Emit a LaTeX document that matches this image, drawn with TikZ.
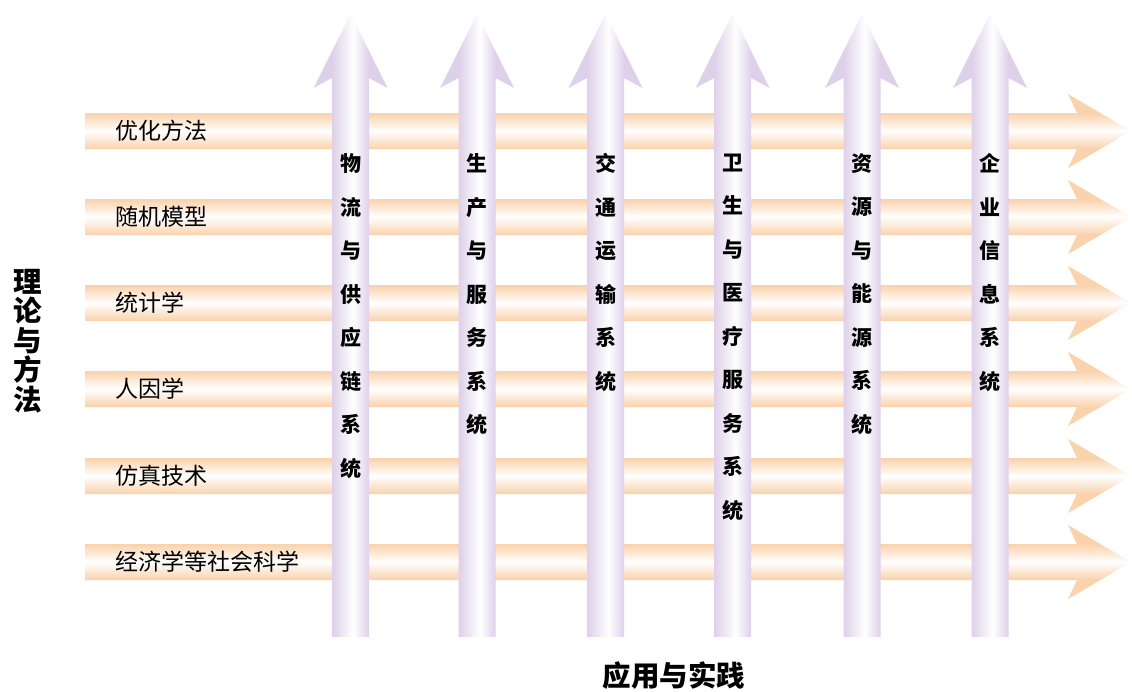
\documentclass[tikz,border=0pt]{standalone}
\usepackage{fontspec}
\newfontfamily\cjk{Noto Sans CJK SC}
\definecolor{peach}{RGB}{250,210,172}
\definecolor{lav}{RGB}{222,208,233}
\pgfdeclareverticalshading{hshade}{100bp}{color(0bp)=(peach); color(38bp)=(peach); color(50bp)=(white); color(62bp)=(peach); color(100bp)=(peach)}
\pgfdeclarehorizontalshading{vshade}{100bp}{color(0bp)=(lav); color(37.6bp)=(lav); color(52bp)=(white); color(62.4bp)=(lav); color(100bp)=(lav)}
\tikzset{
  harrow/.style={shading=hshade},
  varrow/.style={shading=vshade},
  hlabel/.style={anchor=west, inner sep=0pt, font=\cjk\fontsize{23}{26}\selectfont},
  vlabel/.style={anchor=north, inner sep=0pt, align=center, font=\cjk\bfseries\fontsize{21}{43.5}\selectfont},
  biglabel/.style={inner sep=0pt, align=center, font=\cjk\bfseries\fontsize{28.5}{29.4}\selectfont}
}
\begin{document}
\begin{tikzpicture}[x=1pt,y=-1pt]
\useasboundingbox (0,0) rectangle (1132,691);
% horizontal arrows
\foreach \y in {131,217,303,389,476,562}{
  \shade[harrow] (85,\y-18) -- (1077,\y-18) -- (1068,\y-37) -- (1131,\y) -- (1068,\y+37) -- (1077,\y+18) -- (85,\y+18) -- cycle;
}
\node[hlabel] (h1) at (115,131) {优化方法};
\node[hlabel] (h2) at (115,217) {随机模型};
\node[hlabel] (h3) at (115,303) {统计学};
\node[hlabel] (h4) at (115,389) {人因学};
\node[hlabel] (h5) at (115,476) {仿真技术};
\node[hlabel] (h6) at (115,562) {经济学等社会科学};
% vertical arrows
\foreach \c in {350.5,477,605.5,732.5,862,990}{
  \shade[varrow] (\c,14) -- (\c+37,88) -- (\c+18.5,78) -- (\c+18.5,637) -- (\c-18.5,637) -- (\c-18.5,78) -- (\c-37,88) -- cycle;
}
\node[vlabel] (v1) at (350.5,153.5) {物\\流\\与\\供\\应\\链\\系\\统};
\node[vlabel] (v2) at (477,153.5) {生\\产\\与\\服\\务\\系\\统};
\node[vlabel] (v3) at (605.5,153.5) {交\\通\\运\\输\\系\\统};
\node[vlabel] (v4) at (732.5,153.5) {卫\\生\\与\\医\\疗\\服\\务\\系\\统};
\node[vlabel] (v5) at (862,153.5) {资\\源\\与\\能\\源\\系\\统};
\node[vlabel] (v6) at (990,153.5) {企\\业\\信\\息\\系\\统};
% axis labels
\node[biglabel] (left) at (28,341) {理\\论\\与\\方\\法};
\node[biglabel] (bottom) at (674,676) {应用与实践};
\end{tikzpicture}
\end{document}
